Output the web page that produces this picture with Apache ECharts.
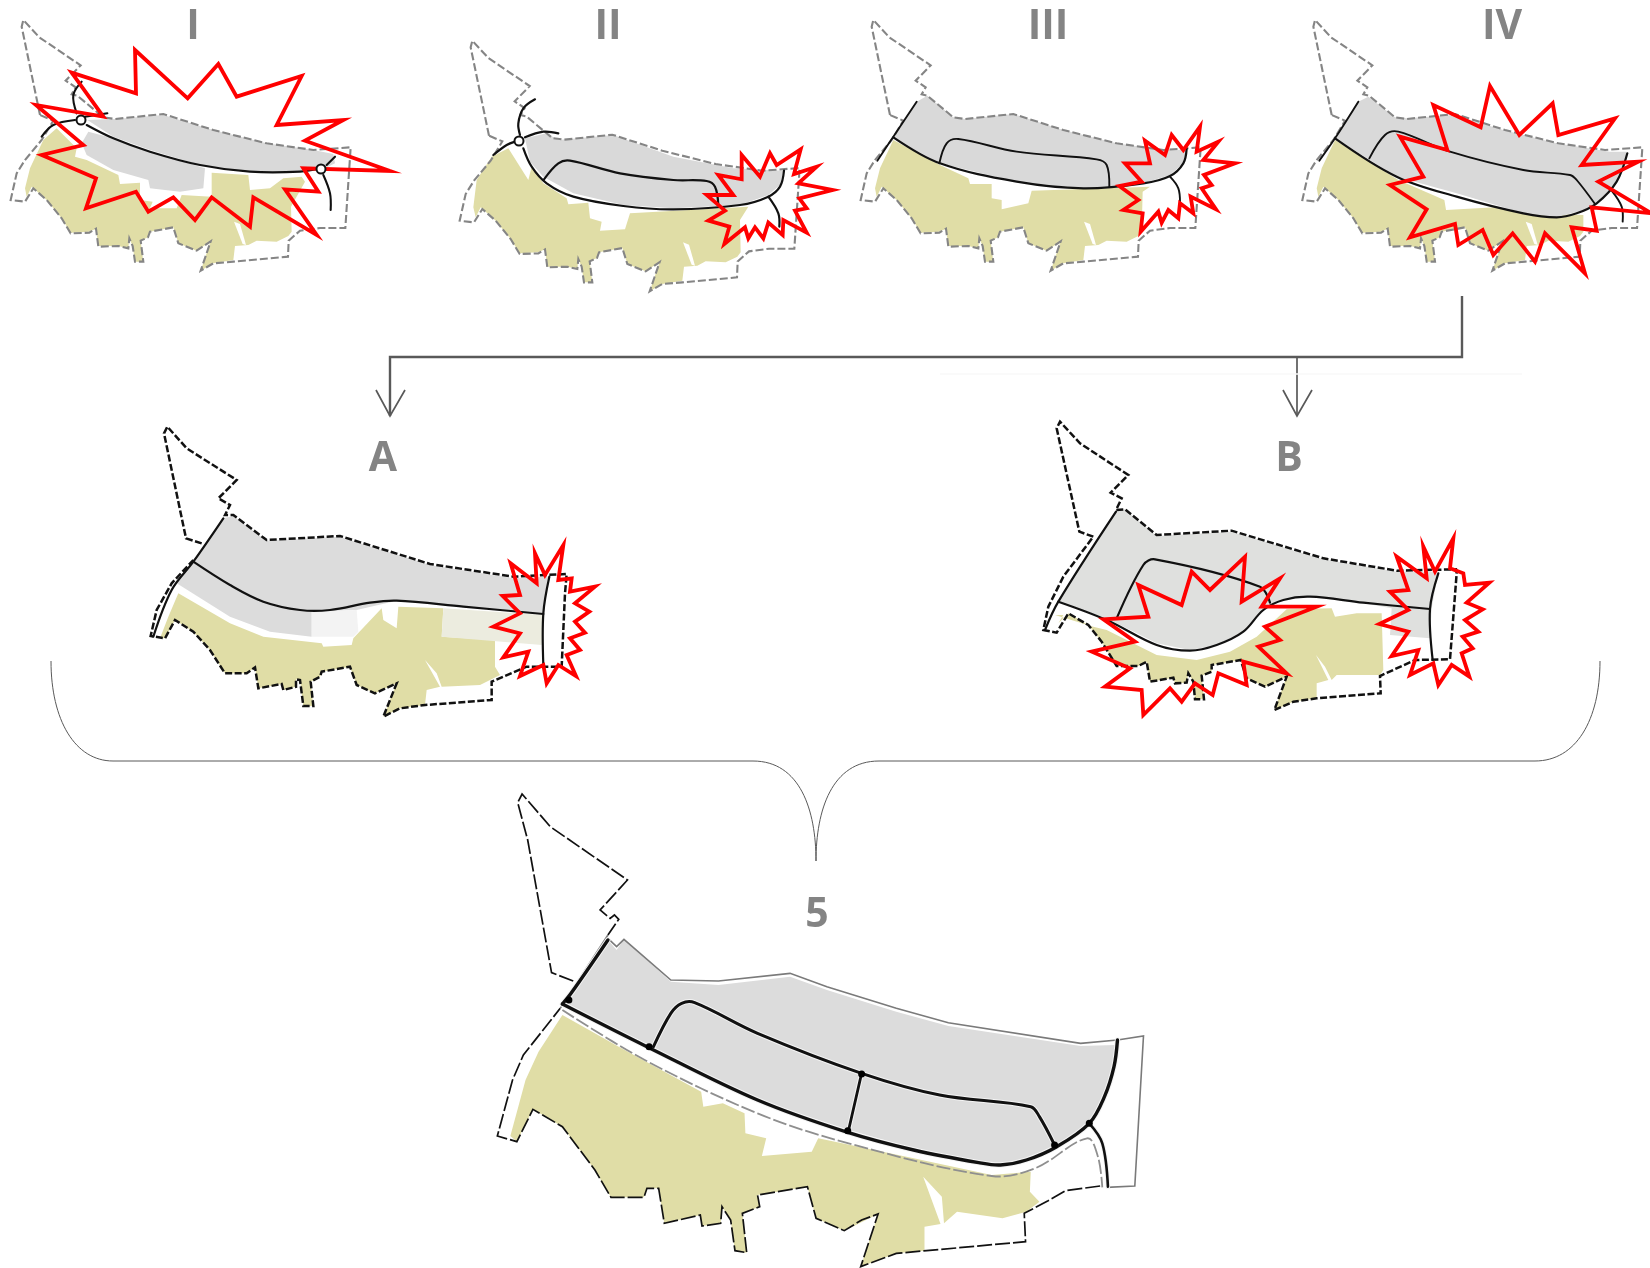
<!DOCTYPE html>
<html><head><meta charset="utf-8">
<script src="https://cdn.jsdelivr.net/npm/echarts@6/dist/echarts.min.js"></script>
<style>html,body{margin:0;padding:0;background:#fff}#c{width:1650px;height:1268px}</style>
</head><body><div id="c"></div>
<script>
// ---- labels
const titleText=['I','II','III','IV','A','B','5'];
const titleX=[193,608,1048,1502,383,1289,817];
const titleY=[27,27,27,27,459,459,915];
// ---- connector lines (page values)
const bracketH=[[1462,296],[1462,357],[390,357],[390,416]];
const arrowA=[[376,390],[390,416],[405,390]];
const arrowStemB=[[1297,357],[1297,416]];
const arrowB=[[1283,390],[1297,416],[1312,390]];
const braceL1=[[51,661],[51,720],[75,761],[113,761]];
const braceL2=[[113,761],[753,761]];
const braceL3=[[753,761],[800,761],[816,810],[816,861]];
const braceR1=[[1600,661],[1600,720],[1576,761],[1535,761]];
const braceR2=[[1535,761],[879,761]];
const braceR3=[[879,761],[832,761],[816,810],[816,861]];
const faintBand=[[940,374],[1522,374]];
// ---- small maps: shared outline and plots (panel III frame)
const smallEdgeA=[[120,345],[65,80],[70,60],[118,112],[242,196],[197,242],[227,262],[215,283],[232,287],[310,352],[345,357],[490,342],[640,390],[800,430],[940,450],[1052,442],[1036,684],[960,684],[900,692],[866,722],[864,770],[700,785],[640,790],[602,812],[632,724],[590,752],[535,730],[520,682],[450,695],[444,712],[422,722],[430,785],[405,785],[398,738],[388,715],[385,745],[355,738],[295,740],[288,686],[268,698],[212,700],[185,655],[140,600],[100,565],[75,605],[32,600],[50,520],[75,480],[125,420],[160,362],[120,345]];
const yellowBottom=[[80,590],[95,560],[140,600],[185,655],[212,698],[268,695],[288,686],[295,738],[355,738],[385,745],[388,715],[398,738],[405,785],[430,785],[422,722],[444,712],[450,695],[520,682],[535,730],[590,752],[632,724],[602,812],[640,790],[700,780],[705,738],[745,735],[770,722],[830,725],[865,708],[875,695]];
const yellowTop1=[[873,620],[915,545],[905,530],[850,535],[810,565],[750,570],[745,525],[635,518],[635,590],[545,585],[530,625],[450,625],[458,605],[420,600],[420,548],[360,552],[355,525],[260,480],[225,470],[230,445],[170,385],[130,420],[90,505],[75,565]];
const yellowTop2=[[873,598],[898,558],[543,578],[528,626],[453,630],[458,603],[423,593],[418,546],[358,551],[353,533],[283,488],[248,438],[238,478],[178,383],[128,408],[83,478],[73,560]];
const yellowTop3=[[878,575],[900,560],[545,572],[535,610],[455,628],[455,600],[425,595],[425,552],[360,552],[355,535],[270,495],[130,420],[90,505],[75,565]];
const yellowTop4=[[875,645],[710,640],[610,622],[463,630],[458,600],[320,540],[130,420],[90,505],[75,565]];
const sliverSmall=[[702,665],[720,672],[738,735],[728,732]];
// panel I
const gray1a=[[262,360],[345,357],[490,345],[640,390],[800,430],[940,450],[1000,462],[1005,490],[965,510],[900,515],[750,515],[600,495],[450,450],[340,410]];
const gray1b=[[265,395],[245,430],[260,465],[340,510],[445,540],[450,565],[540,575],[610,565],[615,505],[450,455],[340,415]];
const road1a=[[125,410],[160,375],[225,360]];
const road1b=[[260,375],[340,415],[450,455],[600,495],[750,515],[900,515],[965,505]];
const road1c=[[245,245],[220,285],[230,340]];
const road1d=[[255,350],[322,340]];
const road1e=[[970,525],[990,580],[992,630]];
const road1f=[[980,495],[1005,470]];
const star1=[[405,150],[408,280],[215,218],[310,350],[108,315],[250,435],[125,465],[288,535],[258,625],[408,575],[445,635],[520,592],[585,660],[635,592],[750,680],[760,592],[950,705],[855,568],[955,575],[910,505],[1170,513],[915,422],[1030,360],[830,375],[905,228],[710,290],[655,192],[563,295]];
// panel II
const gray2=[[255,355],[320,340],[355,360],[520,345],[700,410],[880,445],[1030,452],[1020,495],[985,525],[900,555],[700,565],[550,555],[400,520],[310,470],[270,425]];
const road2a=[[160,405],[200,375],[225,365]];
const road2b=[[240,345],[235,310],[250,265],[285,238]];
const road2c=[[255,352],[310,335],[355,340]];
const road2d=[[250,385],[275,440],[320,490],[400,530],[550,558],[700,568],[900,555],[985,530],[1020,500],[1032,452]];
const road2e=[[312,478],[355,430],[390,422],[540,460],[700,480],[800,483],[825,500],[835,555]];
const road2f=[[985,530],[1015,580],[1018,620]];
const star2=[[1082,388],[1010,435],[990,400],[960,470],[905,405],[905,478],[835,465],[880,525],[800,525],[855,572],[805,602],[868,620],[853,672],[915,622],[925,655],[945,622],[970,655],[985,608],[1028,645],[1030,600],[1100,638],[1065,572],[1100,565],[1078,535],[1178,510],[1075,490],[1130,440],[1062,462]];
// panel III
const gray3=[[200,305],[232,287],[310,352],[345,357],[490,342],[640,390],[800,430],[940,450],[1010,450],[1000,490],[960,525],[880,550],[700,565],[500,545],[270,490],[130,415]];
const road3a=[[200,305],[130,410],[82,482]];
const road3b=[[130,412],[270,490],[500,545],[700,565],[880,550],[960,528],[1000,490],[1010,445]];
const road3c=[[268,490],[290,430],[325,417],[500,455],[740,478],[770,495],[778,560]];
const road3d=[[960,530],[985,565],[990,610]];
const star3=[[1050,380],[1000,450],[965,405],[945,465],[885,422],[900,490],[825,490],[875,545],[808,558],[865,600],[820,630],[878,640],[872,695],[925,635],[935,668],[955,630],[985,655],[990,610],[1030,640],[1022,590],[1098,628],[1055,565],[1085,555],[1062,525],[1155,490],[1060,480],[1105,425],[1040,455]];
// panel IV
const gray4=[[205,305],[235,290],[315,352],[350,355],[490,345],[640,390],[800,430],[960,455],[1010,455],[1000,510],[960,570],[900,625],[800,652],[700,640],[500,580],[320,530],[135,415]];
const road4a=[[205,305],[135,415],[88,482]];
const road4b=[[135,415],[320,530],[500,590],[700,640],[800,652],[860,640],[920,610],[980,545],[1012,460]];
const road4c=[[238,475],[285,405],[325,395],[480,455],[700,510],[840,525],[860,540],[915,612]];
const road4d=[[965,572],[995,620],[998,665]];
const star4=[[600,258],[572,382],[430,315],[472,450],[330,410],[400,530],[300,555],[410,628],[360,712],[495,672],[505,735],[578,690],[610,765],[668,700],[735,785],[765,700],[885,820],[845,682],[920,692],[905,622],[1085,640],[925,545],[1045,485],[875,495],[975,355],[805,405],[788,310],[688,405]];
// panel A
const edgeA=[[215,400],[168,385],[102,70],[112,50],[170,115],[320,210],[265,265],[300,285],[285,315],[310,315],[410,390],[630,378],[900,462],[1150,500],[1310,492],[1305,550],[1295,770],[1190,770],[1085,815],[1085,870],[885,885],[810,895],[760,920],[800,820],[735,850],[680,825],[660,770],[575,785],[570,800],[542,815],[550,888],[520,888],[510,810],[498,808],[498,830],[460,840],[455,822],[385,835],[375,772],[350,790],[285,790],[240,720],[190,665],[135,630],[105,685],[62,678],[80,600],[125,520],[190,450]];
const grayA=[[280,325],[310,318],[410,392],[630,380],[900,465],[1150,505],[1255,500],[1240,610],[1180,608],[1000,590],[800,572],[680,600],[545,605],[545,680],[420,665],[300,620],[140,520],[190,455]];
const hatchA1=[[545,605],[680,600],[685,665],[670,680],[545,680]];
const hatchA2=[[940,595],[1240,615],[1235,705],[935,680]];
const yellowA=[[145,550],[115,620],[90,685],[105,685],[135,630],[190,665],[240,720],[285,790],[350,790],[375,772],[385,835],[455,822],[460,840],[498,830],[498,808],[510,810],[520,888],[550,888],[542,815],[570,800],[575,785],[660,770],[680,825],[735,850],[800,820],[760,920],[810,895],[885,885],[890,840],[930,830],[885,750],[920,790],[935,830],[1050,825],[1110,795],[1095,770],[1095,690],[935,680],[940,595],[805,590],[800,655],[760,630],[755,595],[670,685],[665,705],[580,710],[575,700],[400,680],[300,640]];
const roadAa=[[190,455],[300,525],[400,575],[510,600],[600,600],[720,578],[800,572],[1000,590],[1240,612]];
const roadAb=[[280,325],[190,455],[125,540],[70,680]];
const roadAc=[[1258,500],[1240,610],[1240,765]];
const starA=[[1300,405],[1285,510],[1325,505],[1320,545],[1395,530],[1335,580],[1378,605],[1335,635],[1365,668],[1320,685],[1350,720],[1310,735],[1338,798],[1285,765],[1250,820],[1240,765],[1170,798],[1195,725],[1120,742],[1170,670],[1090,650],[1170,610],[1118,558],[1170,555],[1142,460],[1220,520],[1215,430],[1245,495]];
// panel B
const edgeB=[[190,380],[148,365],[80,55],[90,35],[150,100],[295,195],[242,248],[275,265],[258,300],[285,298],[380,375],[605,362],[880,445],[1100,482],[1278,478],[1280,490],[1260,748],[1155,750],[1050,798],[1052,850],[860,865],[790,875],[733,900],[770,800],[705,830],[650,805],[632,750],[545,765],[545,785],[515,797],[522,868],[495,868],[490,815],[475,790],[470,818],[435,820],[430,803],[360,815],[350,755],[325,768],[260,768],[215,695],[175,645],[115,610],[80,668],[40,660],[55,590],[100,500],[190,380]];
const grayB=[[258,305],[285,298],[380,378],[605,365],[880,448],[1100,485],[1225,485],[1205,595],[1200,685],[1080,675],[1085,595],[1000,580],[840,560],[760,570],[700,600],[640,665],[560,705],[480,720],[380,700],[230,625],[85,575]];
const yellowB=[[75,615],[100,615],[85,640],[115,610],[175,645],[215,695],[260,768],[325,768],[350,755],[360,815],[430,803],[435,820],[470,818],[475,790],[490,815],[495,868],[522,868],[515,797],[545,785],[545,765],[632,750],[650,805],[705,830],[770,800],[733,900],[790,875],[860,865],[860,820],[895,810],[858,735],[885,770],[905,810],[920,795],[1050,795],[1060,780],[1055,610],[980,610],[915,620],[905,595],[770,598],[680,680],[600,725],[500,750],[380,735],[230,660],[190,650]];
const roadBa=[[85,575],[230,630],[380,705],[480,722],[560,705],[640,665],[700,600],[760,570],[840,560],[1000,578],[1200,597]];
const roadBb=[[260,625],[340,465],[375,448],[690,530],[720,578]];
const roadBc=[[258,305],[85,575],[45,660]];
const roadBd=[[1225,490],[1200,597],[1208,750]];
const starB1=[[645,440],[635,575],[750,505],[695,590],[860,590],[705,650],[750,690],[685,710],[770,790],[640,755],[650,825],[565,790],[548,855],[495,820],[455,875],[420,835],[340,915],[335,840],[225,830],[300,775],[185,725],[315,695],[220,628],[355,620],[325,525],[455,585],[485,485],[540,540]];
const starB2=[[1270,385],[1260,475],[1300,490],[1305,525],[1378,518],[1310,578],[1358,598],[1305,630],[1345,665],[1298,680],[1328,715],[1295,730],[1318,800],[1265,765],[1225,825],[1210,760],[1140,795],[1165,720],[1085,738],[1135,665],[1048,642],[1135,600],[1080,545],[1135,540],[1100,440],[1190,505],[1180,410],[1215,485]];
// panel 5
const edge5a=[[215,603],[165,578],[110,180],[87,68],[97,42],[162,140],[340,300],[277,390],[300,415],[310,405],[320,418],[295,465]];
const edge5b=[[295,475],[315,500],[332,478],[440,600],[550,603],[715,580],[800,620],[960,685],[1080,728],[1385,790],[1470,780],[1530,768],[1510,1218],[1445,1222]];
const edge5c=[[1430,1218],[1350,1232],[1310,1262],[1255,1300],[1258,1385],[1030,1412],[960,1420],[878,1460],[918,1302],[880,1320],[840,1352],[775,1315],[755,1220],[640,1245],[645,1280],[605,1300],[615,1418],[588,1412],[578,1320],[558,1280],[555,1330],[512,1338],[508,1305],[425,1330],[412,1225],[385,1225],[378,1252],[302,1252],[265,1170],[190,1040],[122,988],[85,1085],[40,1068],[75,900],[100,825],[185,685]];
const edge5d=[[185,685],[295,465]];
const gray5=[[295,480],[315,510],[332,478],[440,605],[550,615],[715,590],[800,630],[960,695],[1080,738],[1385,798],[1465,795],[1462,860],[1445,940],[1405,1025],[1345,1090],[1300,1125],[1210,1155],[1150,1150],[1000,1105],[850,1050],[640,960],[400,810],[200,670],[215,620]];
const yellow5=[[190,705],[135,815],[105,900],[70,1068],[85,1085],[122,988],[190,1040],[265,1170],[302,1252],[378,1252],[385,1225],[412,1225],[425,1330],[508,1305],[512,1338],[555,1330],[558,1280],[578,1320],[588,1412],[615,1418],[605,1300],[645,1280],[640,1245],[755,1220],[775,1315],[840,1352],[918,1302],[878,1460],[960,1420],[1025,1412],[1025,1340],[1062,1332],[1022,1190],[1065,1250],[1070,1330],[1100,1295],[1205,1315],[1260,1295],[1290,1265],[1268,1235],[1270,1175],[1180,1185],[1000,1135],[780,1075],[765,1115],[650,1128],[660,1075],[612,1060],[610,1000],[560,970],[515,980],[510,935],[320,800]];
const road5a=[[190,672],[385,800],[640,960],[850,1058],[1000,1110],[1150,1148],[1200,1155],[1260,1140],[1330,1100],[1405,1030],[1440,950],[1462,860],[1470,780]];
const road5b=[[400,800],[440,700],[465,670],[495,668],[640,760],[880,880],[1060,945],[1270,980],[1290,1010],[1325,1095]];
const road5c=[[880,880],[850,1050]];
const road5d=[[295,480],[210,640],[190,672]];
const road5e=[[1405,1030],[1435,1090],[1448,1220]];
const road5gray=[[190,690],[380,840],[640,1000],[850,1090],[1180,1188],[1280,1165],[1400,1075],[1425,1130],[1435,1222]];
// small junction markers
const ringsX=[81,321,519],ringsY=[120,169,141];
const knots5=[[390,800],[848,1052],[1325,1095],[1405,1030],[205,660],[880,882]];

// ---- frames: where each drawing sits on the page
const place=(pts,ox,oy,sx=3,sy=3)=>pts.map(p=>[ox+p[0]/sx,oy+p[1]/sy]);
const series=[];
const base=(pts,render)=>series.push({type:'custom',coordinateSystem:'cartesian2d',silent:true,clip:false,animation:false,encode:{x:0,y:1},data:pts,
  renderItem(params,api){ return params.dataIndex?null:render(pts.map(p=>api.coord(p))); }});
const poly=(pts,style,closed,smooth)=>base(pts,c=>({type:closed?'polygon':'polyline',shape:{points:c,smooth:smooth||0},style:Object.assign({fill:'none'},style)}));
const bez=(pts,style)=>base(pts,c=>({type:'bezierCurve',shape:{x1:c[0][0],y1:c[0][1],cpx1:c[1][0],cpy1:c[1][1],cpx2:c[2][0],cpy2:c[2][1],x2:c[3][0],y2:c[3][1]},style:Object.assign({fill:'none'},style)}));
const YEL='#e0dda6',GRY='#d9d9d9',RED='#ff0000',BLK='#111111',EDGE='#858585';
const fillP=(pts,c)=>poly(pts,{fill:c},true);
const road=(pts,w)=>poly(pts,{stroke:BLK,lineWidth:w,lineCap:'round',lineJoin:'round'},false,0.35);
const halo=(pts,w)=>poly(pts,{stroke:'#f4f4f4',lineWidth:w,lineCap:'round',lineJoin:'round'},false,0.35);
const star=(pts,w)=>poly(pts,{stroke:RED,lineWidth:w,lineJoin:'miter',miterLimit:10},true);
const smallEdge=(pts)=>poly(pts,{stroke:EDGE,lineWidth:2.1,lineDash:[8,3]},false);
const blackEdge=(pts)=>poly(pts,{stroke:'#111',lineWidth:2.5,lineDash:[7,2.5]},false);

// small maps
const P1=[0,0],P2=[440,20],P3=[850,0],P4=[1290,0];
const F1=[0,0],F2=[449,20.7],F3=[850,0],F4=[1291.7,0];
[[F1,yellowTop1],[F2,yellowTop2],[F3,yellowTop3],[F4,yellowTop4]].forEach(([f,top])=>{
  fillP(place(yellowBottom.concat(top),f[0],f[1]),YEL);
  fillP(place(sliverSmall,f[0],f[1]),'#ffffff');
});
fillP(place(gray1a,...P1),GRY);fillP(place(gray1b,...P1),GRY);
fillP(place(gray2,...P2),GRY);fillP(place(gray3,...P3),GRY);fillP(place(gray4,...P4),GRY);
[F1,F2,F3,F4].forEach(f=>smallEdge(place(smallEdgeA,f[0],f[1])));
[road1a,road1b,road1c,road1d,road1e,road1f].forEach(r=>road(place(r,...P1),2.1));
[road2a,road2b,road2c,road2d,road2e,road2f].forEach(r=>road(place(r,...P2),2.2));
[road3a,road3c,road3d].forEach(r=>road(place(r,...P3),1.9));road(place(road3b,...P3),2.2);
[road4a,road4c,road4d].forEach(r=>road(place(r,...P4),1.9));road(place(road4b,...P4),2.2);

// A and B
const PA=[130,410],PB=[1030,410];
fillP(place(yellowA,...PA),YEL);fillP(place(grayA,...PA),'#dcdcdc');
fillP(place(hatchA1,...PA),'#f3f3f3');fillP(place(hatchA2,...PA),'#ececdf');
blackEdge(place(edgeA,...PA));
[roadAa,roadAb,roadAc].forEach(r=>road(place(r,...PA),2.2));
fillP(place(yellowB,...PB),YEL);fillP(place(grayB,...PB),'#dfe0de');
blackEdge(place(edgeB,...PB));
[roadBa,roadBb,roadBc,roadBd].forEach(r=>road(place(r,...PB),2.2));

// 5
const P5=[480,780,2.306,3];
fillP(place(yellow5,...P5),YEL);fillP(place(gray5,...P5),'#dcdcdc');
poly(place(road5gray,...P5),{stroke:'#8f8f8f',lineWidth:1.8,lineDash:[14,3]},false,0.35);
poly(place(edge5a,...P5),{stroke:'#111',lineWidth:1.7,lineDash:[15,3]},false);
poly(place(edge5c,...P5),{stroke:'#111',lineWidth:1.7,lineDash:[15,3]},false);
poly(place(edge5b,...P5),{stroke:'#7a7a7a',lineWidth:1.6},false);
poly(place(edge5d,...P5),{stroke:'#7a7a7a',lineWidth:1.6},false);
[[road5a,3.4],[road5b,3],[road5c,2.8],[road5d,3.4],[road5e,2.6]].forEach(([r,w])=>halo(place(r,...P5),w+2));
[[road5a,3.4],[road5b,3],[road5c,2.8],[road5d,3.4],[road5e,2.6]].forEach(([r,w])=>road(place(r,...P5),w));

// red bursts over everything on their panels
star(place(star1,...P1),3.8);star(place(star2,...P2),3.8);star(place(star3,...P3),3.8);star(place(star4,...P4),3.8);
star(place(starA,...PA),3.8);star(place(starB1,...PB),3.8);star(place(starB2,...PB),3.8);

// connectors
const CON='#595959';
const thin=(p,w)=>poly(p,{stroke:CON,lineWidth:w},false);
const curve=(p)=>bez(p,{stroke:CON,lineWidth:1});
thin(bracketH,2.4);thin(arrowA,1.7);thin(arrowStemB,1.7);thin(arrowB,1.7);
curve(braceL1);thin(braceL2,1);curve(braceL3);curve(braceR1);thin(braceR2,1);curve(braceR3);
poly(faintBand,{stroke:'#f8f8f8',lineWidth:1.5},false);

// junction rings, knots and titles
series.push({type:'scatter',silent:true,animation:false,symbol:'circle',symbolSize:9,
  itemStyle:{color:'#fff',borderColor:'#111',borderWidth:2,opacity:1},
  data:ringsX.map((x,i)=>[x,ringsY[i]])});
series.push({type:'scatter',silent:true,animation:false,symbol:'circle',symbolSize:7,
  itemStyle:{color:'#000',opacity:1},data:place(knots5,...P5)});
series.push({type:'scatter',silent:true,animation:false,symbolSize:1,itemStyle:{color:'rgba(0,0,0,0)',opacity:1},
  label:{show:true,position:'inside',formatter:p=>titleText[p.dataIndex],fontFamily:'Open Sans',fontWeight:'bold',fontSize:41,color:'#848484'},
  data:titleX.map((x,i)=>[x,titleY[i]])});

const chart=echarts.init(document.getElementById('c'),null,{renderer:'canvas'});
chart.setOption({animation:false,backgroundColor:'#ffffff',
  grid:{left:0,right:0,top:0,bottom:0},
  xAxis:{type:'value',min:0,max:1650,show:false},
  yAxis:{type:'value',min:0,max:1268,inverse:true,show:false},
  series});
</script></body></html>
